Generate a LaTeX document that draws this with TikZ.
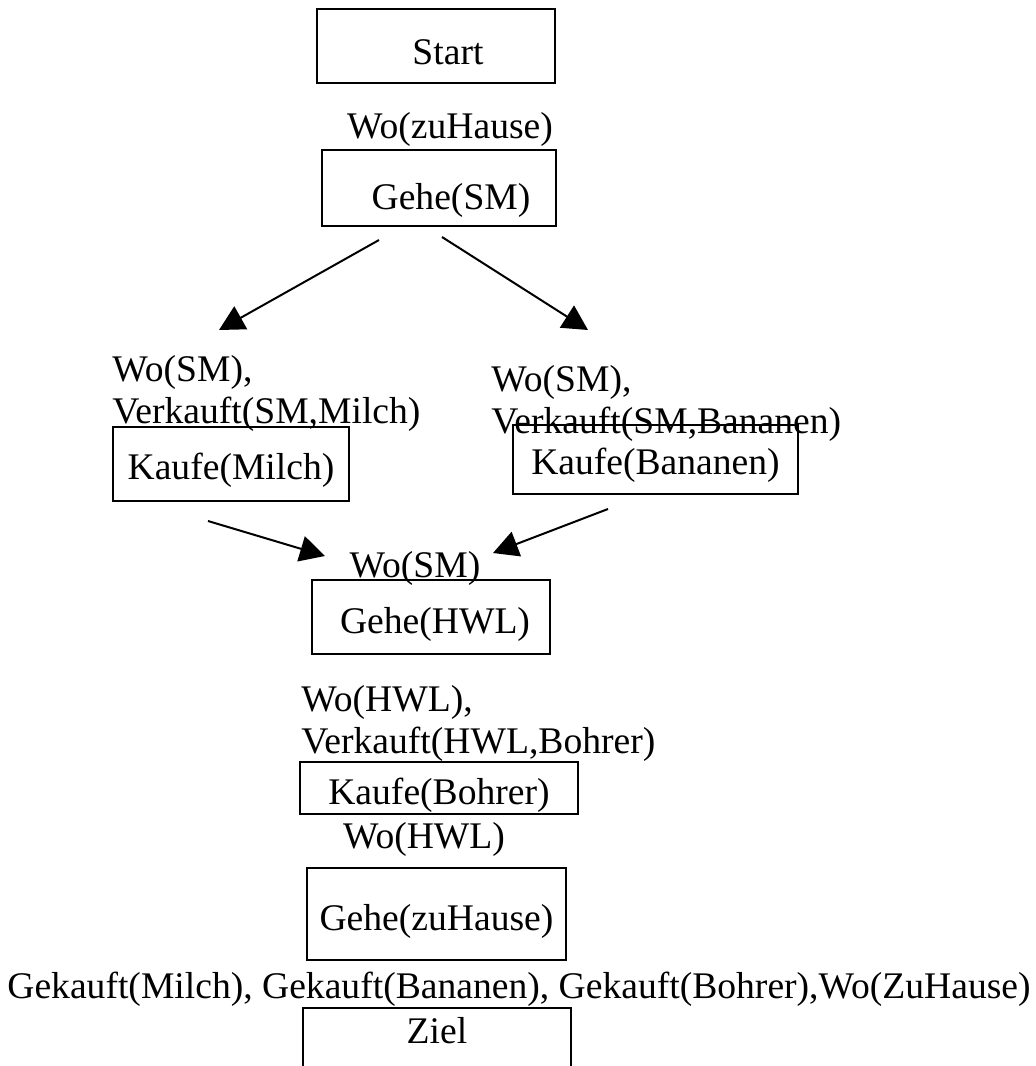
\documentclass[tikz,border=0pt]{standalone}
\usepackage{fontspec}
\setmainfont{Liberation Serif}
\usepackage{tikz}
\usetikzlibrary{arrows.meta}

\begin{document}
\begin{tikzpicture}[
    x=0.5pt, y=-0.5pt,
    box/.style={draw, line width=1.2pt, inner sep=0pt, align=center,
                text depth=5pt, font=\fontsize{18.8}{21}\selectfont},
    cond/.style={inner sep=0pt, align=left, font=\fontsize{18.8}{21}\selectfont},
    arrow/.style={-{Triangle[length=12.5pt,width=13pt]}, line width=1pt},
  ]
    \useasboundingbox (0,0) rectangle (1036,1066);

    % Schritte des Plans
    \node[box, minimum width=119pt, minimum height=37pt, text height=23.4pt] (start) at (436,46) {\hspace{12pt}Start};
    \node[cond] (preGeheSM) at (450,129) {Wo(zuHause)};
    \node[box, minimum width=117pt, minimum height=38pt, text height=26.9pt] (geheSM) at (439,188) {\hspace{12pt}Gehe(SM)};

    \node[cond, anchor=west] (preMilch) at (112,393) {Wo(SM),\\Verkauft(SM,Milch)};
    \node[box, minimum width=118pt, minimum height=37pt, text height=20.9pt] (kaufeMilch) at (231,464) {Kaufe(Milch)};
    \node[cond, anchor=west] (preBananen) at (491,403) {Wo(SM),\\Verkauft(SM,Bananen)};
    \node[box, minimum width=142.5pt, minimum height=34.5pt, text height=19.9pt] (kaufeBananen) at (655.5,459.5) {Kaufe(Bananen)};

    \node[cond] (preGeheHWL) at (415,568) {Wo(SM)};
    \node[box, minimum width=119pt, minimum height=37pt, text height=21.4pt] (geheHWL) at (431,617) {\hspace{4pt}Gehe(HWL)};

    \node[cond, anchor=west] (preBohrer) at (301,723) {Wo(HWL),\\Verkauft(HWL,Bohrer)};
    \node[box, minimum width=139pt, minimum height=26pt, text height=20.4pt, text depth=4pt] (kaufeBohrer) at (439,788) {Kaufe(Bohrer)};

    \node[cond] (preGeheHause) at (424,839) {Wo(HWL)};
    \node[box, minimum width=129.5pt, minimum height=46pt, text height=21.4pt] (geheHause) at (436.5,914) {Gehe(zuHause)};

    \node[cond] (preZiel) at (519,989) {Gekauft(Milch), Gekauft(Bananen), Gekauft(Bohrer),Wo(ZuHause)};
    \node[box, anchor=north, minimum width=134pt, text height=17.5pt, text depth=30pt] (ziel) at (437,1007) {Ziel};

    % Pfeile
    \coordinate (a1) at (379,240);
    \coordinate (a2) at (219,330);
    \coordinate (b1) at (442,237);
    \coordinate (b2) at (588,330);
    \coordinate (c1) at (208,521);
    \coordinate (c2) at (325,556);
    \coordinate (d1) at (608,509);
    \coordinate (d2) at (493,553);

    \draw[arrow] (a1) -- (a2);
    \draw[arrow] (b1) -- (b2);
    \draw[arrow] (c1) -- (c2);
    \draw[arrow] (d1) -- (d2);
\end{tikzpicture}
\end{document}
